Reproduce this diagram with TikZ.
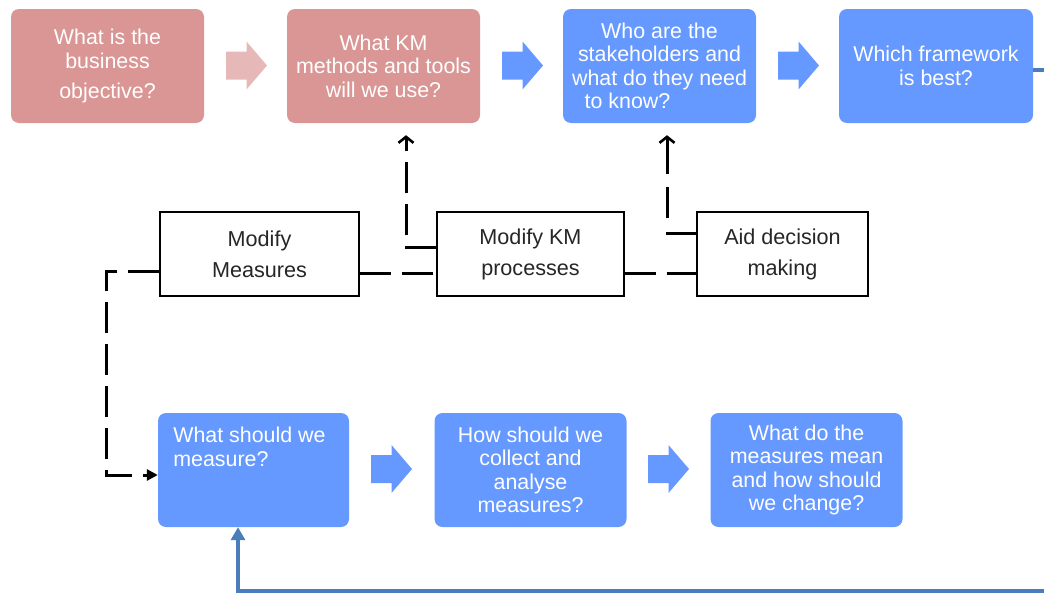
\documentclass[tikz,border=0pt]{standalone}
\usepackage{fontspec}
\setmainfont{Liberation Sans}
\usetikzlibrary{arrows.meta}

\definecolor{boxpink}{HTML}{D99694}
\definecolor{arrowpink}{HTML}{E6B9B8}
\definecolor{boxblue}{HTML}{6699FF}
\definecolor{loopblue}{HTML}{4A7EBB}
\definecolor{inktext}{HTML}{262626}

\begin{document}
\begin{tikzpicture}[x=1pt,y=-1pt,
  qfont/.style={font=\fontsize{21.4}{23.4}\selectfont},
  qbox/.style={rounded corners=8pt, minimum width=193pt, minimum height=114pt,
    inner sep=0pt, align=center, text=white, qfont},
  pinkbox/.style={qbox, fill=boxpink},
  bluebox/.style={qbox, fill=boxblue},
  actbox/.style={draw=black, line width=1.2pt, fill=white, minimum height=84pt,
    inner sep=0pt, align=center, text=inktext,
    font=\fontsize{21.6}{31}\selectfont},
  dashline/.style={draw=black, line width=3pt, dash pattern=on 31pt off 11pt},
  uptip/.style={-{Straight Barb[length=6pt, width=15pt, line width=2.6pt]}},
  intip/.style={-{Triangle[length=11pt, width=11pt]}},
  loop/.style={draw=loopblue, line width=4.6pt, -{Triangle[length=13pt, width=14pt]}},
  pics/blockarrow/.style={code={
    \fill[#1] (-20.5,-14) -- (0,-14) -- (0,-24) -- (20.5,0) -- (0,24)
      -- (0,14) -- (-20.5,14) -- cycle;}}
]
\useasboundingbox (0,0) rectangle (1044,597);

% planning steps, top row
\node[pinkbox] (objective) at (107.5,66)
  {What is the\\business\\[7pt]objective?};
\node[pinkbox] (methods) at (383.5,66)
  {What KM\\methods and tools\\will we use?};
\node[bluebox] (stakeholders) at (659.5,66)
  {Who are the\\stakeholders and\\what do they need\\to know?\hspace*{64pt}};
\node[bluebox, minimum width=194pt] (framework) at (936,66)
  {Which framework\\is best?};

\pic at (246.5,65.5) {blockarrow=arrowpink};
\pic at (522.5,65.5) {blockarrow=boxblue};
\pic at (798.5,65.5) {blockarrow=boxblue};

% measurement steps, bottom row
\node[bluebox, minimum width=191pt,
  label={[anchor=north west, xshift=12pt, yshift=-11pt, align=left,
    text=white, qfont]north west:{What should we\\measure?}}]
  (measure) at (253.5,470) {};
\node[bluebox, minimum width=192pt] (collect) at (530.5,470)
  {How should we\\collect and\\analyse\\measures?};
\node[bluebox, minimum width=192pt] (meaning) at (806.5,470)
  {What do the\\measures mean\\and how should\\we change?};

\pic at (391.5,469) {blockarrow=boxblue};
\pic at (668.5,469) {blockarrow=boxblue};

% actions taken on the results
\node[actbox, minimum width=199pt] (modmeas) at (259.5,254) {Modify\\Measures};
\node[actbox, minimum width=187pt] (modkm) at (530.5,254) {Modify KM\\processes};
\node[actbox, minimum width=171pt] (aid) at (782.5,254) {Aid decision\\making};

% dashed feedback routes
\draw[dashline] ([yshift=-19pt]modmeas.east) -- ([yshift=-19pt]modkm.west);
\draw[dashline] ([yshift=-19pt]modkm.east) -- ([yshift=-19pt]aid.west);
\draw[dashline, uptip] ([yshift=7pt]modkm.west)
  -| ([xshift=22.5pt, yshift=-12pt]methods.south);
\draw[dashline, uptip, dash pattern=on 30pt off 14pt on 31pt off 13pt on 80pt off 0pt]
  ([yshift=21pt]aid.west)
  -| ([xshift=7.5pt, yshift=-12pt]stakeholders.south);
\draw[dashline, intip] ([yshift=-17pt]modmeas.west) -- ++(-53,0)
  |- ([yshift=-5pt]measure.west);

% loop back from the framework to the measures
\coordinate (loopR) at (1062,70);
\coordinate (loopB) at (1062,591);
\draw[loop] ([yshift=-4pt]framework.east) -- (loopR) -- (loopB)
  -| ([xshift=-15.5pt]measure.south);
\end{tikzpicture}
\end{document}
